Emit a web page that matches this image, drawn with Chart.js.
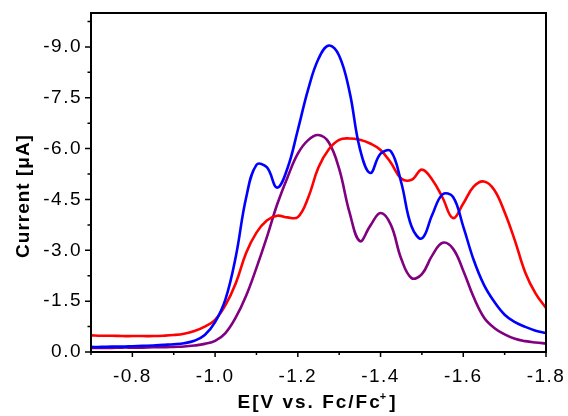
<!DOCTYPE html>
<html>
<head>
<meta charset="utf-8">
<title>Current vs. E</title>
<script src="https://cdn.jsdelivr.net/npm/chart.js@4.4.1/dist/chart.umd.min.js"></script>
<style>
  html, body { margin: 0; padding: 0; background: #fff; }
  #cv { display: block; }
</style>
</head>
<body>
<canvas id="cv" width="568" height="416"></canvas>
<script>
/* ==========================================================
   Voltammograms — current (µA) vs. E (V vs. Fc/Fc+)
   ========================================================== */

// potential, V vs. Fc/Fc+ (every 25 mV)
const potential = [
  -0.700, -0.725, -0.750, -0.775, -0.800, -0.825, -0.850, -0.875, -0.900, -0.925,
  -0.950, -0.975, -1.000, -1.025, -1.050, -1.075, -1.100, -1.125, -1.150, -1.175,
  -1.200, -1.225, -1.250, -1.275, -1.300, -1.325, -1.350, -1.375, -1.400, -1.425,
  -1.450, -1.475, -1.500, -1.525, -1.550, -1.575, -1.600, -1.625, -1.650, -1.675,
  -1.700, -1.725, -1.750, -1.775, -1.800
];

// current, µA
const iBlue = [
  -0.15, -0.15, -0.16, -0.16, -0.17, -0.18, -0.19, -0.21, -0.23, -0.26,
  -0.33, -0.50, -0.88, -1.55, -2.81, -4.55, -5.52, -5.45, -4.85, -5.42,
  -6.55, -7.75, -8.65, -9.04, -8.74, -7.68, -6.00, -5.28, -5.85, -5.92,
  -5.00, -3.70, -3.35, -4.05, -4.65, -4.58, -3.70, -2.72, -1.98, -1.48,
  -1.10, -0.88, -0.74, -0.63, -0.56
];
const iRed = [
  -0.49, -0.48, -0.48, -0.47, -0.47, -0.47, -0.47, -0.48, -0.50, -0.54,
  -0.62, -0.75, -0.95, -1.38, -2.03, -2.92, -3.52, -3.88, -4.02, -3.97,
  -3.98, -4.55, -5.45, -5.98, -6.26, -6.30, -6.26, -6.15, -5.96, -5.58,
  -5.12, -5.08, -5.38, -5.08, -4.55, -3.95, -4.38, -4.88, -5.03, -4.78,
  -4.12, -3.28, -2.34, -1.72, -1.30
];
const iPurple = [
  -0.12, -0.12, -0.12, -0.13, -0.13, -0.13, -0.14, -0.14, -0.15, -0.16,
  -0.19, -0.24, -0.33, -0.56, -1.02, -1.66, -2.48, -3.38, -4.35, -5.15,
  -5.85, -6.25, -6.40, -6.18, -5.40, -4.12, -3.27, -3.72, -4.10, -3.75,
  -2.75, -2.18, -2.30, -2.85, -3.22, -3.05, -2.40, -1.62, -1.02, -0.71,
  -0.52, -0.39, -0.32, -0.28, -0.25
];

// axis ticks
const xTicks = [-0.8, -1.0, -1.2, -1.4, -1.6, -1.8];
const xMinor = [-0.7, -0.9, -1.1, -1.3, -1.5, -1.7];
const yTicks = [0, -1.5, -3.0, -4.5, -6.0, -7.5, -9.0];
const yMinor = [-0.75, -2.25, -3.75, -5.25, -6.75, -8.25, -9.75];

const FONT = "'Liberation Sans', Arial, sans-serif";
const SPACING = '1.5px';

const pts = ys => potential.map((x, i) => ({ x, y: ys[i] }));

function trace(values, color){
  return {
    data: pts(values),
    borderColor: color,
    borderWidth: 2.6,
    pointRadius: 0,
    fill: false,
    tension: 0.4
  };
}

// keep the plot box where the layout padding puts it
function noEdgePadding(s){
  s.paddingLeft = s.paddingRight = s.paddingTop = s.paddingBottom = 0;
}

/* ============== box, tick marks and axis titles ============== */
const frame = {
  id: 'frame',
  beforeUpdate(chart){ chart.ctx.letterSpacing = SPACING; },
  beforeDraw(chart){ chart.ctx.letterSpacing = SPACING; },
  afterDraw(chart){
    const { ctx, chartArea: a, scales: { x, y } } = chart;
    ctx.save();
    ctx.strokeStyle = '#000';
    ctx.lineWidth = 2;
    ctx.strokeRect(a.left, a.top, a.right - a.left, a.bottom - a.top);

    ctx.lineWidth = 1.5;
    ctx.beginPath();
    for (const v of xTicks){ const px = x.getPixelForValue(v); ctx.moveTo(px, a.bottom); ctx.lineTo(px, a.bottom + 5); }
    for (const v of xMinor){ const px = x.getPixelForValue(v); ctx.moveTo(px, a.bottom); ctx.lineTo(px, a.bottom + 3); }
    for (const v of yTicks){ const py = y.getPixelForValue(v); ctx.moveTo(a.left, py); ctx.lineTo(a.left - 6, py); }
    for (const v of yMinor){ const py = y.getPixelForValue(v); ctx.moveTo(a.left, py); ctx.lineTo(a.left - 3.5, py); }
    ctx.stroke();

    ctx.fillStyle = '#000';

    // y title
    ctx.save();
    ctx.letterSpacing = '1px';
    ctx.translate(24, 196);
    ctx.rotate(-Math.PI / 2);
    ctx.font = `bold 19px ${FONT}`;
    ctx.textAlign = 'center';
    ctx.textBaseline = 'middle';
    ctx.fillText('Current [μA]', 0, 0);
    ctx.restore();

    // x title with superscript +
    ctx.letterSpacing = '2px';
    const big = `bold 19px ${FONT}`, small = `bold 11px ${FONT}`;
    ctx.textAlign = 'left';
    ctx.textBaseline = 'alphabetic';
    ctx.font = big;
    const w1 = ctx.measureText('E[V vs. Fc/Fc').width;
    const w3 = ctx.measureText(']').width;
    ctx.font = small;
    const w2 = ctx.measureText('+').width;
    let tx = 318 - (w1 + w2 + w3) / 2;
    const base = 408;
    ctx.font = big;
    ctx.fillText('E[V vs. Fc/Fc', tx, base);
    tx += w1;
    ctx.font = small;
    ctx.fillText('+', tx - 2, base - 8);
    tx += w2;
    ctx.font = big;
    ctx.fillText(']', tx - 1, base);

    ctx.restore();
  }
};

/* ============== chart ============== */
new Chart(document.getElementById('cv').getContext('2d'), {
  type: 'line',
  data: {
    datasets: [
      trace(iBlue, '#0000ff'),
      trace(iRed, '#ff0000'),
      trace(iPurple, '#800080')
    ]
  },
  options: {
    responsive: false,
    animation: false,
    events: [],
    layout: { padding: { left: 0, right: 22, top: 13, bottom: 0 } },
    plugins: { legend: { display: false }, tooltip: { enabled: false } },
    scales: {
      x: {
        type: 'linear',
        min: -1.8, max: -0.7,
        reverse: true,
        grid: { display: false, drawTicks: true, tickLength: 5 },
        border: { display: false },
        afterBuildTicks: s => { s.ticks = xTicks.map(v => ({ value: v })); },
        afterFit: s => { s.height = 64; noEdgePadding(s); },
        ticks: {
          color: '#000',
          font: { family: FONT, size: 19 },
          padding: 8,
          maxRotation: 0, minRotation: 0,
          callback: v => Number(v).toFixed(1)
        }
      },
      y: {
        type: 'linear',
        min: -10, max: 0,
        reverse: true,
        grid: { display: false, drawTicks: true, tickLength: 6 },
        border: { display: false },
        afterBuildTicks: s => { s.ticks = yTicks.map(v => ({ value: v })); },
        afterFit: s => { s.width = 91; noEdgePadding(s); },
        ticks: {
          color: '#000',
          font: { family: FONT, size: 19 },
          padding: 3,
          callback: v => Number(v).toFixed(1)
        }
      }
    }
  },
  plugins: [frame]
});
</script>
</body>
</html>
